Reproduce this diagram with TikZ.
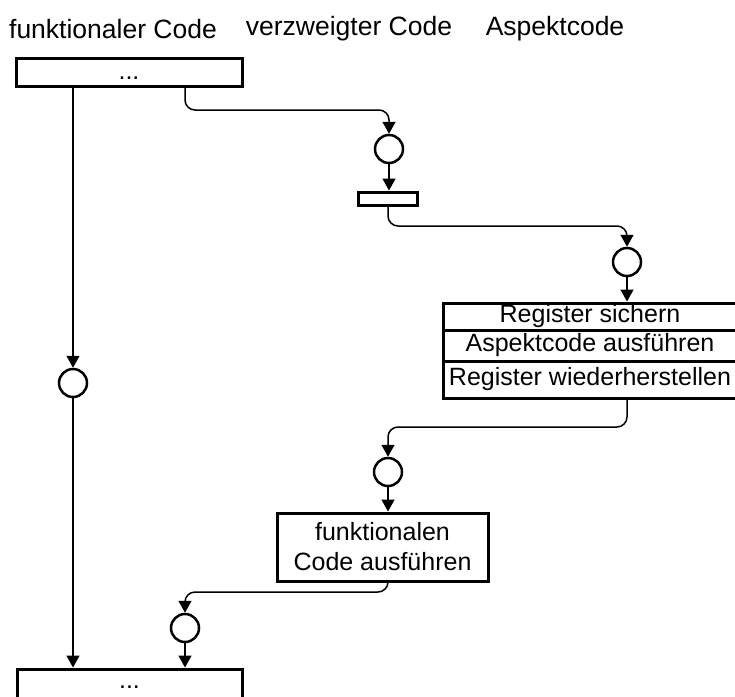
\documentclass[tikz,border=0pt]{standalone}
\usepackage{fontspec}
\setmainfont{Liberation Sans}
\usetikzlibrary{arrows.meta}

\tikzset{
  box/.style={draw,line width=3pt,inner sep=0pt,align=center},
  stelle/.style={draw,circle,line width=2.5pt,minimum size=28pt,inner sep=0pt},
  conn/.style={line width=1.5pt,rounded corners=10pt,-{Triangle[length=12pt,width=13pt]}},
  kopf/.style={font=\fontsize{26.5}{30}\selectfont}
}

\begin{document}
\begin{tikzpicture}[x=1pt,y=-1pt,font=\fontsize{25}{30}\selectfont]
\useasboundingbox (0,0) rectangle (735,696);

\node[kopf] (hdrfun) at (113,29) {funktionaler Code};
\node[kopf] (hdrver) at (349,29) {verzweigter Code};
\node[kopf] (hdrasp) at (555,29) {Aspektcode};

% Bloecke
\node[box,minimum width=226pt,minimum height=28pt,text height=14pt,text depth=0pt] (top) at (129,72) {...};
\node[box,minimum width=59pt,minimum height=13pt] (weiche) at (387.5,198.5) {};
\node[box,minimum width=294pt,minimum height=27pt] (sichern) at (590,316.5) {Register sichern};
\node[box,minimum width=294pt,minimum height=31pt] (aspekt) at (590,345.5) {Aspektcode ausführen};
\node[box,minimum width=294pt,minimum height=37pt] (wieder) at (590,379.5) {Register wiederherstellen};
\node[box,minimum width=211pt,minimum height=68pt] (funk) at (382.5,547) {funktionalen\\Code ausführen};
\node[box,minimum width=225pt,minimum height=38pt,text height=0pt,text depth=0pt] (bot) at (129.5,688) {...};

% Stellen
\node[stelle] (sL) at (73,383) {};
\node[stelle] (sV) at (389,149) {};
\node[stelle] (sA) at (627,262) {};
\node[stelle] (sR) at (388,472) {};
\node[stelle] (sF) at (185,628) {};

\coordinate (abzweig) at (185,86);

% Verbindungen
\draw[conn] (top.south -| sL) -- (sL.north);
\draw[conn] (sL.south) -- (bot.north -| sL);

\draw[conn] (abzweig) -- (185,110) -| (sV.north);
\draw[conn] (sV.south) -- (weiche.north -| sV);
\draw[conn] (weiche.south -| sR) -- (388,226) -| (sA.north);
\draw[conn] (sA.south) -- (sichern.north -| sA);

\draw[conn] (wieder.south -| sA) -- (627,427) -| (sR.north);
\draw[conn] (sR.south) -- (funk.north -| sR);
\draw[conn] (funk.south -| sR) -- (388,592) -| (sF.north);
\draw[conn] (sF.south) -- (bot.north -| sF);

\end{tikzpicture}
\end{document}
